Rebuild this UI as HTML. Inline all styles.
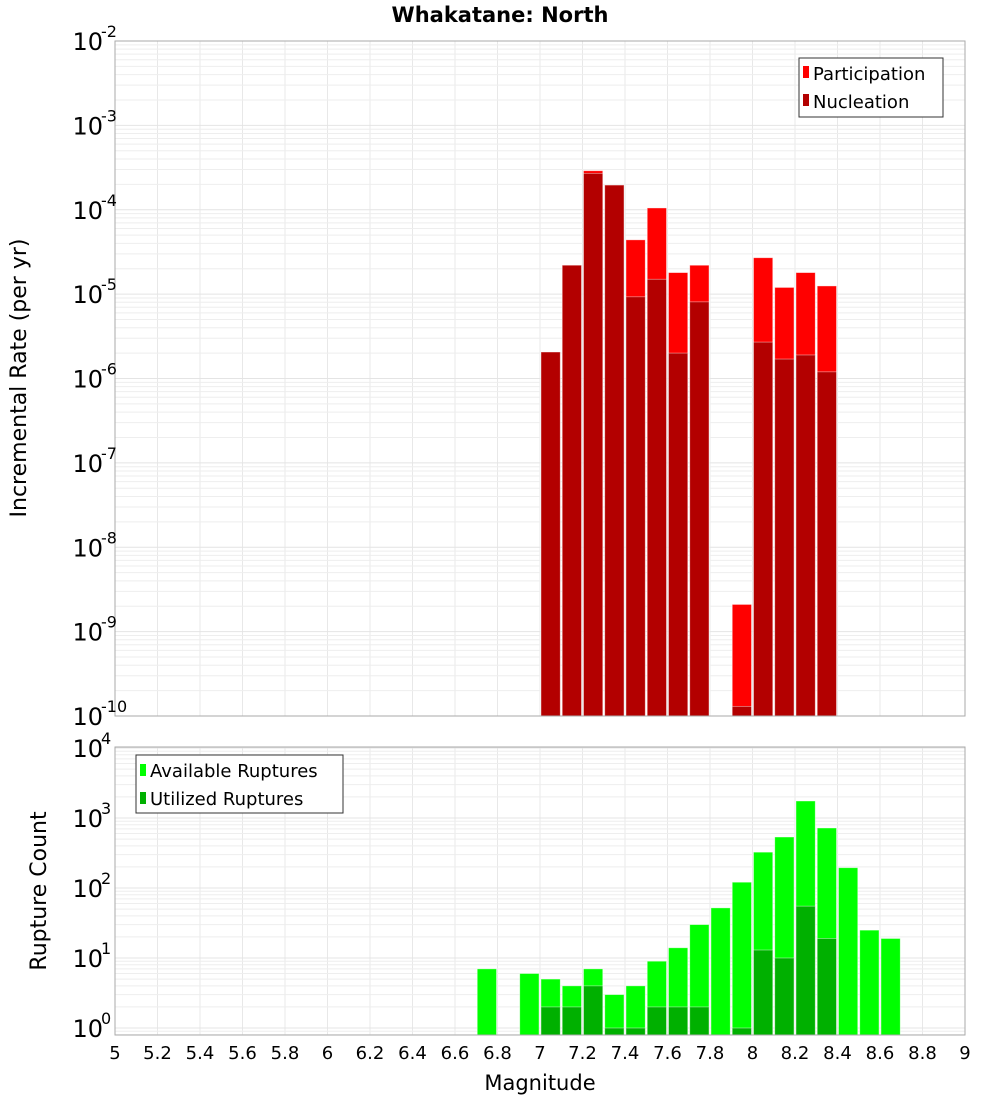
<!DOCTYPE html>
<html><head><meta charset="utf-8"><style>
body{margin:0;background:#fff;}
svg text{font-family:"DejaVu Sans","Liberation Sans",sans-serif;}
</style></head><body>
<svg id="c" width="1000" height="1100" xmlns="http://www.w3.org/2000/svg"></svg>
<script>
const mags = [6.75,6.85,6.95,7.05,7.15,7.25,7.35,7.45,7.55,7.65,7.75,7.85,7.95,8.05,8.15,8.25,8.35,8.45,8.55,8.65];
const participation = [0,0,0,2.06e-6,2.2e-5,2.9e-4,1.96e-4,4.4e-5,1.05e-4,1.8e-5,2.2e-5,0,2.1e-9,2.7e-5,1.2e-5,1.8e-5,1.25e-5,0,0,0];
const nucleation = [0,0,0,2.06e-6,2.2e-5,2.7e-4,1.96e-4,9.3e-6,1.5e-5,2e-6,8.1e-6,0,1.3e-10,2.7e-6,1.7e-6,1.9e-6,1.2e-6,0,0,0];
const available = [7,0,6,5,4,7,3,4,9,14,30,52,121,325,535,1750,720,195,25,19];
const utilized = [0,0,0,2,2,4,1,1,2,2,2,0,1,13,10,55,19,0,0,0];
const xTicks = [5,5.2,5.4,5.6,5.8,6,6.2,6.4,6.6,6.8,7,7.2,7.4,7.6,7.8,8,8.2,8.4,8.6,8.8,9];
const topExps = [-2,-3,-4,-5,-6,-7,-8,-9,-10];
const botExps = [4,3,2,1,0];

const NS="http://www.w3.org/2000/svg";
const svg=document.getElementById('c');
function mk(tag,attrs,parent){const e=document.createElementNS(NS,tag);for(const k in attrs)e.setAttribute(k,attrs[k]);(parent||svg).appendChild(e);return e;}
const X0=115,X1=965;
const xs=m=>X0+(m-5)/4*(X1-X0);
const T={top:41,bot:716,lmax:-2,lmin:-10};
const yT=v=>T.top+(T.lmax-Math.log10(v))*(T.bot-T.top)/(T.lmax-T.lmin);
const B={top:747,bot:1035};
const yB=v=>1028-Math.log10(v)*70;

function grid(y0,y1,expLo,expHi,yf){
  const g=mk('g',{});
  
  
  for(const t of xTicks){const x=xs(t);mk('line',{x1:x,x2:x,y1:y0,y2:y1,stroke:'#e8e8e8','stroke-width':1},g);}
  for(let e=expLo;e<=expHi;e++){for(let k=1;k<10;k++){const y=yf(k*Math.pow(10,e));if(y<y0||y>y1)continue;mk('line',{x1:X0,x2:X1,y1:y,y2:y,stroke:k==1?'#e4e4e4':'#eeeeee','stroke-width':1},g);}}
}
grid(T.top,T.bot,-10,-2,yT);
grid(B.top,B.bot,-1,4,yB);

const bw=(xs(5.1)-xs(5))-2;
function bars(vals,yf,ybot,color,name){
  vals.forEach((v,i)=>{if(!v)return;const x=xs(mags[i])-bw/2;let y=yf(v);
    const r=mk('rect',{x:x,y:y,width:bw,height:ybot-y,fill:color,stroke:'#ffffff','stroke-opacity':0.5,'stroke-width':0.8});
    
    });
}
bars(participation,yT,T.bot,'#ff0000','participation-bar');
bars(nucleation,yT,T.bot,'#b30000','nucleation-bar');
bars(available,yB,B.bot,'#00ff00','available-bar');
bars(utilized,yB,B.bot,'#00b000','utilized-bar');

const f1=mk('rect',{x:X0,y:T.top,width:X1-X0,height:T.bot-T.top,fill:'none',stroke:'#aaaaaa','stroke-width':1});

const f2=mk('rect',{x:X0,y:B.top,width:X1-X0,height:B.bot-B.top,fill:'none',stroke:'#aaaaaa','stroke-width':1});


function ylab(e,y,name){
  const t=mk('text',{x:103,y:y+9,'font-size':24,'text-anchor':'end',fill:'#000'});
  t.textContent='10';
  
  
  const s=mk('text',{x:101,y:y-4,'font-size':16,fill:'#000'});
  s.textContent=String(e);
  
  
}
topExps.forEach(e=>ylab(e,yT(Math.pow(10,e)),'top-y-tick'));
botExps.forEach(e=>ylab(e,yB(Math.pow(10,e)),'bottom-y-tick'));
xTicks.forEach(t=>{const el=mk('text',{x:xs(t),y:1059,'font-size':18,'text-anchor':'middle',fill:'#000'});el.textContent=String(t);
  });
</script>
<svg width="1000" height="1100" style="position:absolute;left:0;top:0" xmlns="http://www.w3.org/2000/svg">
<text x="500" y="22" font-size="21" font-weight="bold" text-anchor="middle" font-family="DejaVu Sans, Liberation Sans, sans-serif">Whakatane: North</text>
<text x="540" y="1090" font-size="21" text-anchor="middle" font-family="DejaVu Sans, Liberation Sans, sans-serif">Magnitude</text>
<text transform="translate(26,378) rotate(-90)" font-size="22" text-anchor="middle" font-family="DejaVu Sans, Liberation Sans, sans-serif">Incremental Rate (per yr)</text>
<text transform="translate(46,891) rotate(-90)" font-size="22" text-anchor="middle" font-family="DejaVu Sans, Liberation Sans, sans-serif">Rupture Count</text>
<g font-family="DejaVu Sans, Liberation Sans, sans-serif" font-size="18">
<rect x="799" y="58" width="144" height="59" fill="#fff" stroke="#333" stroke-width="1"/>
<rect x="803" y="66" width="6" height="12" fill="#ff0000"/>
<text x="813" y="80">Participation</text>
<rect x="803" y="94" width="6" height="12" fill="#b30000"/>
<text x="813" y="108">Nucleation</text>
</g>
<g font-family="DejaVu Sans, Liberation Sans, sans-serif" font-size="18">
<rect x="136" y="755" width="207" height="58" fill="#fff" stroke="#333" stroke-width="1"/>
<rect x="140" y="764" width="6" height="12" fill="#00ff00"/>
<text x="150" y="777">Available Ruptures</text>
<rect x="140" y="792" width="6" height="12" fill="#00b000"/>
<text x="150" y="805">Utilized Ruptures</text>
</g>
</svg>
</body></html>
